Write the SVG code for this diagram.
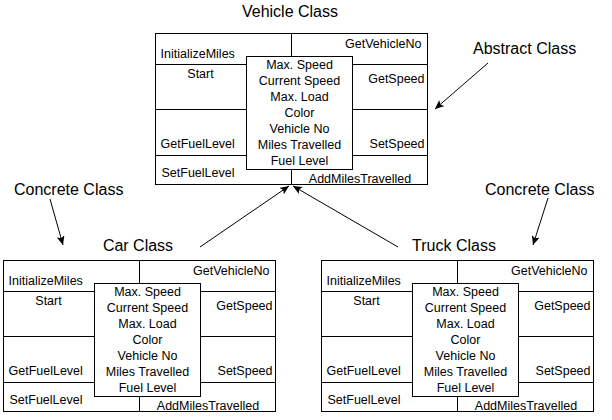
<svg xmlns="http://www.w3.org/2000/svg" width="612" height="420" viewBox="0 0 612 420">
<style>
.box{fill:#fff;stroke:#000;stroke-width:1}
.ln{stroke:#000;stroke-width:1;fill:none}
.t{font-family:"Liberation Sans",Arial,sans-serif;font-size:12.5px;fill:#000}
.c{text-anchor:middle}
.e{text-anchor:end}
.big{font-family:"Liberation Sans",Arial,sans-serif;font-size:16px;fill:#000}
.conn{stroke:#000;stroke-width:1;fill:none;marker-end:url(#ah)}
</style>
<defs>
<marker id="ah" markerUnits="userSpaceOnUse" markerWidth="10" markerHeight="8" refX="9" refY="4" orient="auto">
<path d="M0,0 L9,4 L0,8 L2,4 Z" fill="#000"/>
</marker>
<g id="cls">
<rect class="box" x="0" y="0" width="272" height="151"/>
<path class="ln" d="M136,0 V23 M136,136 V151 M0,31 H91 M197,31 H272 M0,76 H91 M197,76 H272 M0,122 H91 M197,122 H272"/>
<rect class="box" x="91" y="23" width="106" height="113"/>
<text class="t" x="5" y="24">InitializeMiles</text>
<text class="t e" x="266" y="14">GetVehicleNo</text>
<text class="t c" x="45" y="44">Start</text>
<text class="t e" x="269" y="49">GetSpeed</text>
<text class="t" x="5" y="114">GetFuelLevel</text>
<text class="t e" x="269" y="114">SetSpeed</text>
<text class="t" x="6" y="143">SetFuelLevel</text>
<text class="t c" x="204.5" y="149">AddMilesTravelled</text>
<text class="t c" x="144" y="35.5">Max. Speed</text>
<text class="t c" x="144" y="51.5">Current Speed</text>
<text class="t c" x="144" y="67.5">Max. Load</text>
<text class="t c" x="144" y="83.5">Color</text>
<text class="t c" x="144" y="99.5">Vehicle No</text>
<text class="t c" x="144" y="115.5">Miles Travelled</text>
<text class="t c" x="144" y="131.5">Fuel Level</text>
</g>
</defs>
<rect width="612" height="420" fill="#fff"/>
<g id="vehicle">
<text class="big c" x="290" y="17">Vehicle Class</text>
<use href="#cls" transform="translate(155.5,33.5)"/>
</g>
<g id="car">
<text class="big c" x="138" y="251">Car Class</text>
<use href="#cls" transform="translate(3.5,260.5)"/>
</g>
<g id="truck">
<text class="big c" x="454" y="251">Truck Class</text>
<use href="#cls" transform="translate(321.5,260.5)"/>
</g>
<g id="label-abstract"><text class="big" x="473" y="54">Abstract Class</text></g>
<g id="label-concrete-left"><text class="big" x="14" y="195">Concrete Class</text></g>
<g id="label-concrete-right"><text class="big" x="485" y="195">Concrete Class</text></g>
<g id="connectors">
<path class="conn" d="M200,247 L289,186"/>
<path class="conn" d="M398,247 L293,186"/>
<path class="conn" d="M488,63 L435,109"/>
<path class="conn" d="M50,199 L63,245"/>
<path class="conn" d="M548,198 L533,245"/>
</g>
</svg>
